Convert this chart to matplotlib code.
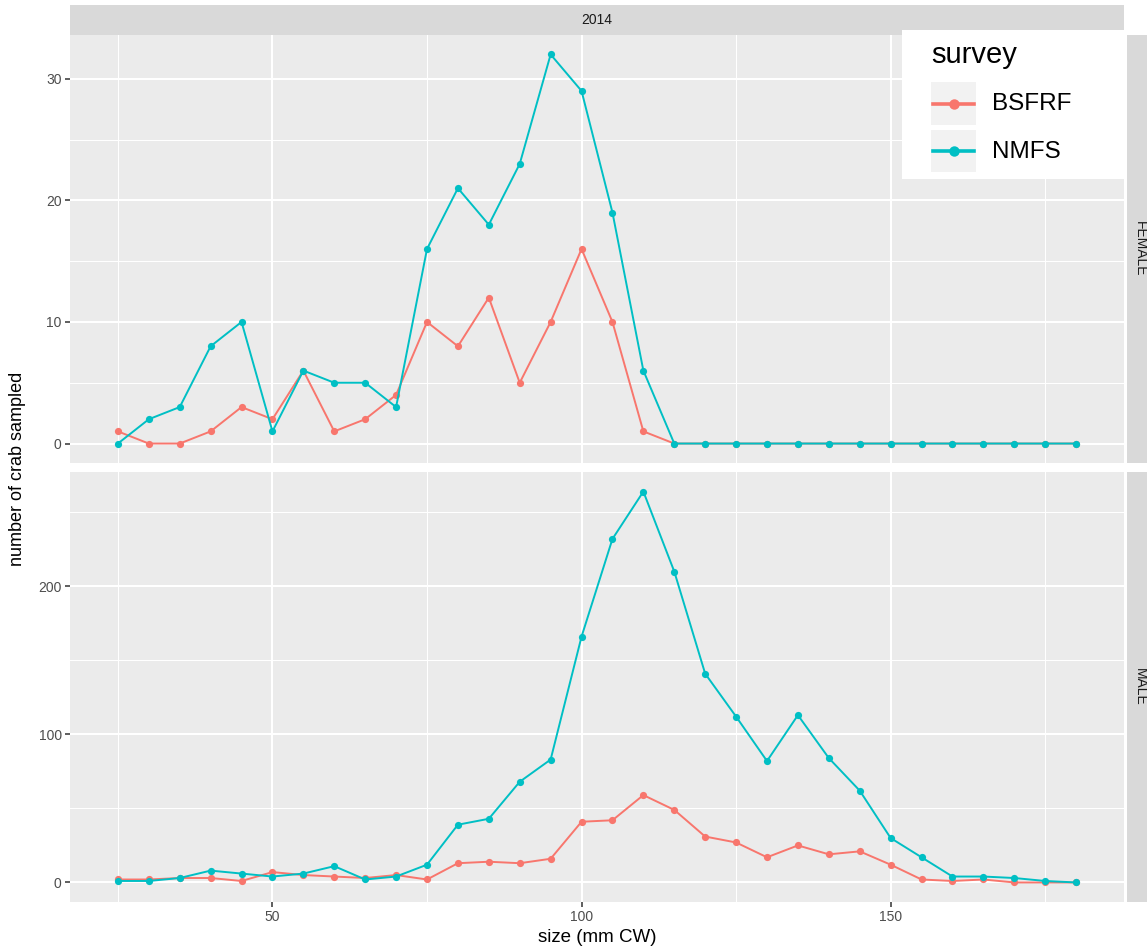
import matplotlib
matplotlib.use("Agg")
import matplotlib.pyplot as plt
from matplotlib.patches import Rectangle
from matplotlib.lines import Line2D
import numpy as np

plt.rcParams['font.family'] = ['Liberation Sans', 'DejaVu Sans']

# ---------------- data ----------------
sizes = list(range(25, 185, 5))
year = "2014"
sexes = ["FEMALE", "MALE"]
surveys = ["BSFRF", "NMFS"]
colors = {"BSFRF": "#F8766D", "NMFS": "#00BFC4"}

female_bsfrf = [1, 0, 0, 1, 3, 2, 6, 1, 2, 4, 10, 8, 12, 5, 10, 16, 10, 1,
                0, 0, 0, 0, 0, 0, 0, 0, 0, 0, 0, 0, 0, 0]
female_nmfs = [0, 2, 3, 8, 10, 1, 6, 5, 5, 3, 16, 21, 18, 23, 32, 29, 19, 6,
               0, 0, 0, 0, 0, 0, 0, 0, 0, 0, 0, 0, 0, 0]
male_bsfrf = [2, 2, 3, 3, 1, 7, 5, 4, 3, 5, 2, 13, 14, 13, 16, 41, 42, 59,
              49, 31, 27, 17, 25, 19, 21, 12, 2, 1, 2, 0, 0, 0]
male_nmfs = [1, 1, 3, 8, 6, 4, 6, 11, 2, 4, 12, 39, 43, 68, 83, 166, 232, 264,
             210, 141, 112, 82, 113, 84, 62, 30, 17, 4, 4, 3, 1, 0]

data = {
    "FEMALE": {"BSFRF": female_bsfrf, "NMFS": female_nmfs},
    "MALE": {"BSFRF": male_bsfrf, "NMFS": male_nmfs},
}

x_major = [50, 100, 150]
x_minor = [25, 75, 125, 175]
y_major = {"FEMALE": [0, 10, 20, 30], "MALE": [0, 100, 200]}
y_minor = {"FEMALE": [5, 15, 25], "MALE": [50, 150, 250]}

# ---------------- layout ----------------
W, H = 1147, 950
fig = plt.figure(figsize=(W / 100, H / 100), dpi=100)
fig.patch.set_facecolor("white")

def fr(x0, y0, x1, y1):
    return [x0 / W, 1 - y1 / H, (x1 - x0) / W, (y1 - y0) / H]

panel_px = {"FEMALE": (70, 35, 1124, 463), "MALE": (70, 472, 1124, 902)}

xmin, xmax = min(sizes), max(sizes)
xpad = 0.05 * (xmax - xmin)

for sex in sexes:
    ax = fig.add_axes(fr(*panel_px[sex]))
    ax.set_facecolor("#EBEBEB")
    for s in ax.spines.values():
        s.set_visible(False)
    ymax_d = max(max(data[sex][sv]) for sv in surveys)
    ypad = 0.05 * ymax_d
    ax.set_xlim(xmin - xpad, xmax + xpad)
    ax.set_ylim(-ypad, ymax_d + ypad)
    # grid
    for v in x_minor:
        ax.axvline(v, color="white", lw=0.75, zorder=0.5)
    for v in x_major:
        ax.axvline(v, color="white", lw=1.5, zorder=0.6)
    for v in y_minor[sex]:
        ax.axhline(v, color="white", lw=0.75, zorder=0.5)
    for v in y_major[sex]:
        ax.axhline(v, color="white", lw=1.5, zorder=0.6)
    for sv in surveys:
        ax.plot(sizes, data[sex][sv], color=colors[sv], lw=1.4,
                marker="o", markersize=5.2, markeredgewidth=0, zorder=3)
    ax.set_yticks(y_major[sex])
    ax.set_yticklabels([str(v) for v in y_major[sex]])
    ax.set_xticks(x_major)
    ax.tick_params(axis="both", colors="#333333", length=3.5, width=1.1,
                   labelsize=10, labelcolor="#4D4D4D", pad=2.5)
    if sex == "FEMALE":
        ax.tick_params(axis="x", length=0, labelbottom=False)
    # right strip
    x0, y0, x1, y1 = panel_px[sex]
    sax = fig.add_axes(fr(1127, y0, 1153, y1))
    sax.set_facecolor("#D9D9D9")
    sax.set_xticks([]); sax.set_yticks([])
    for s in sax.spines.values():
        s.set_visible(False)
    sax.text(0.5, 0.5, sex, rotation=-90, ha="center", va="center",
             fontsize=10, color="#1A1A1A", transform=sax.transAxes)

# top strip
tax = fig.add_axes(fr(70, 5, 1124, 35))
tax.set_facecolor("#D9D9D9")
tax.set_xticks([]); tax.set_yticks([])
for s in tax.spines.values():
    s.set_visible(False)
tax.text(0.5, 0.5, year, ha="center", va="center", fontsize=10,
         color="#1A1A1A", transform=tax.transAxes)

# axis titles
fig.text(18 / W, 1 - 468.5 / H, "number of crab sampled", rotation=90,
         ha="center", va="center", fontsize=13, color="black")
fig.text(597 / W, 1 - 937 / H, "size (mm CW)", ha="center", va="center",
         fontsize=13.5, color="black")

# legend (inside, top right)
lax = fig.add_axes(fr(902, 30, 1127, 179))
lax.set_xlim(0, 225)
lax.set_ylim(149, 0)
lax.set_facecolor("white")
lax.set_xticks([]); lax.set_yticks([])
for s in lax.spines.values():
    s.set_visible(False)
lax.text(29, 33, "survey", fontsize=21, ha="left", va="baseline", color="black")
key_boxes = [(52, 95), (100, 142)]
for sv, (ky0, ky1) in zip(surveys, key_boxes):
    lax.add_patch(Rectangle((29, ky0), 45, ky1 - ky0, facecolor="#F2F2F2",
                            edgecolor="none"))
    cy = (ky0 + ky1) / 2
    lax.add_line(Line2D([31, 72], [cy, cy], color=colors[sv], lw=2.6))
    lax.plot([51.5], [cy], marker="o", color=colors[sv], markersize=7.5,
             markeredgewidth=0)
    lax.text(90, cy + 1, sv, fontsize=17.5, ha="left", va="center", color="black")

fig.savefig("out.png", dpi=100)
